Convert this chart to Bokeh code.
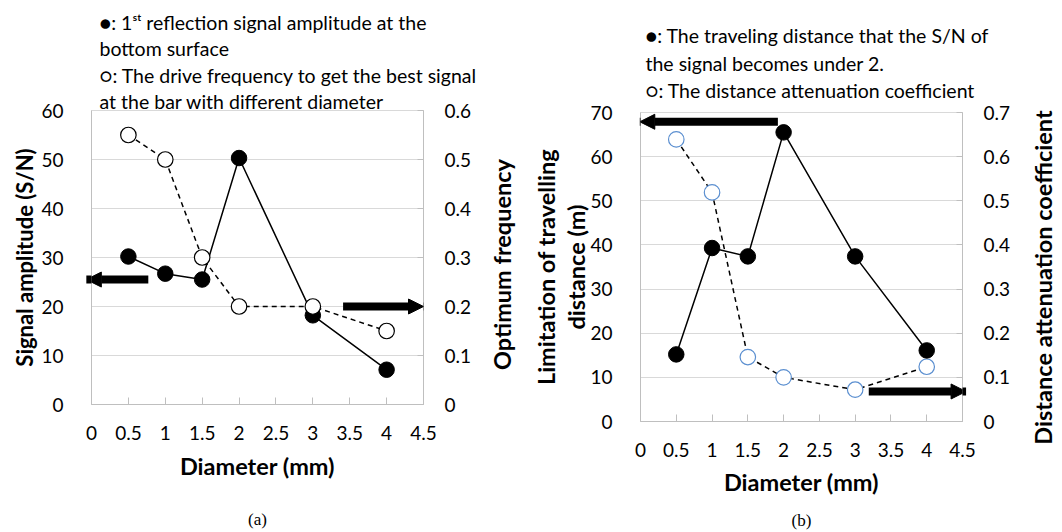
import math
from bokeh.plotting import figure
from bokeh.models import (Range1d, LinearAxis, FixedTicker, CustomJSTickFormatter,
                          Title, Arrow, NormalHead, ColumnDataSource)
from bokeh.layouts import row
from bokeh.embed import file_html
from bokeh.resources import INLINE

# ---------------- data ----------------
diameter = [0.5, 1, 1.5, 2, 3, 4]
a_amplitude = [30.2, 26.7, 25.5, 50.3, 18.2, 7.1]
a_frequency = [0.55, 0.50, 0.30, 0.20, 0.20, 0.15]
b_distance = [15.2, 39.3, 37.4, 65.5, 37.4, 16.1]
b_attenuation = [0.639, 0.519, 0.146, 0.100, 0.072, 0.124]

x_ticks = [0, 0.5, 1, 1.5, 2, 2.5, 3, 3.5, 4, 4.5]
a_left_ticks = [0, 10, 20, 30, 40, 50, 60]
a_right_ticks = [0, 0.1, 0.2, 0.3, 0.4, 0.5, 0.6]
b_left_ticks = [0, 10, 20, 30, 40, 50, 60, 70]
b_right_ticks = [0, 0.1, 0.2, 0.3, 0.4, 0.5, 0.6, 0.7]

a_legend = ["\u25cf: 1\u02e2\u1d57 reflection signal amplitude at the",
            "bottom surface",
            "\u25cb: The drive frequency to get the best signal",
            "at the bar with different diameter"]
b_legend = ["\u25cf: The traveling distance that the S/N of",
            "the signal becomes under 2.",
            "\u25cb: The distance attenuation coefficient"]

FONT = "Lato"
LEG_FONT = "Lato, Noto Sans CJK JP"
TITLE_SIZE = "23.5px"
GRID = "#d9d9d9"
AXIS = "#bfbfbf"
FMT = "return Number(tick.toFixed(2)).toString();"
H = 532


def set_standoff(obj, name, val, fallback=0):
    try:
        setattr(obj, name, val)
    except Exception:
        setattr(obj, name, fallback)


def no_frame_align(p):
    if "frame_align" in p.properties():
        p.frame_align = False


def style_axis_title(ax, text, standoff, size=TITLE_SIZE):
    ax.axis_label = text
    ax.axis_label_text_font = FONT
    ax.axis_label_text_font_size = size
    ax.axis_label_text_font_style = "bold"
    ax.axis_label_text_color = "black"
    set_standoff(ax, "axis_label_standoff", standoff)


def tick_style(ax, standoff):
    ax.minor_tick_line_color = None
    ax.axis_line_color = AXIS
    ax.major_label_standoff = standoff
    ax.major_label_text_font = FONT
    ax.major_label_text_font_size = "19px"
    ax.major_label_text_color = "black"


def base_panel(W, fl, fr, ft, fb, ymax, rmax, lticks, rticks, xtitle, ytitle,
               xt_standoff, yt_standoff, yt_size):
    p = figure(width=W, height=H, output_backend="svg", toolbar_location=None,
               x_range=Range1d(0, 4.5), y_range=Range1d(0, ymax),
               min_border_left=fl, min_border_right=W - fr,
               min_border_top=ft, min_border_bottom=H - fb, title_location=None)
    no_frame_align(p)
    p.extra_y_ranges = {"r": Range1d(0, rmax)}
    p.outline_line_color = GRID
    p.background_fill_color = "white"
    p.border_fill_color = "white"
    p.xgrid.visible = False
    p.ygrid.grid_line_color = GRID
    p.ygrid.ticker = FixedTicker(ticks=lticks)

    xa = p.xaxis[0]
    xa.ticker = FixedTicker(ticks=x_ticks)
    xa.formatter = CustomJSTickFormatter(code=FMT)
    tick_style(xa, 21)
    xa.major_tick_line_color = AXIS
    xa.major_tick_in = 7
    xa.major_tick_out = 0
    style_axis_title(xa, xtitle, xt_standoff)

    ya = p.yaxis[0]
    ya.ticker = FixedTicker(ticks=lticks)
    ya.formatter = CustomJSTickFormatter(code=FMT)
    tick_style(ya, 22)
    ya.major_tick_line_color = None
    style_axis_title(ya, ytitle, yt_standoff, yt_size)
    ya.axis_label_text_line_height = 1.08

    ra = LinearAxis(y_range_name="r", ticker=FixedTicker(ticks=rticks),
                    formatter=CustomJSTickFormatter(code=FMT))
    tick_style(ra, 21)
    ra.major_tick_line_color = AXIS
    ra.major_tick_in = 6
    ra.major_tick_out = 0
    p.add_layout(ra, "right")
    return p


def caption(p, text, standoff):
    cap = LinearAxis(ticker=FixedTicker(ticks=[]))
    cap.axis_line_color = None
    cap.major_tick_line_color = None
    cap.minor_tick_line_color = None
    cap.major_tick_in = 0
    cap.major_tick_out = 0
    cap.minor_tick_in = 0
    cap.minor_tick_out = 0
    cap.major_label_standoff = 0
    cap.axis_label = text
    cap.axis_label_text_font = "Liberation Serif"
    cap.axis_label_text_font_size = "17px"
    cap.axis_label_text_font_style = "normal"
    cap.axis_label_text_color = "black"
    cap.axis_label_standoff = standoff
    p.add_layout(cap, "below")


def legend_title(p, lines, offset, standoff, line_height):
    t = Title(text="\n".join(lines), align="left", offset=offset,
              text_font=LEG_FONT, text_font_size="19.5px",
              text_font_style="normal", text_color="black",
              text_line_height=line_height)
    set_standoff(t, "standoff", standoff)
    p.add_layout(t, "above")


def title_strip(W, top, bottom, text, standoff):
    p = figure(width=W, height=H, output_backend="svg", toolbar_location=None,
               x_axis_location=None, y_axis_location=None, title_location=None,
               min_border_left=0, min_border_right=0,
               min_border_top=top, min_border_bottom=H - bottom)
    no_frame_align(p)
    p.outline_line_color = None
    p.background_fill_color = "white"
    p.border_fill_color = "white"
    p.grid.visible = False
    p.add_layout(Title(text=text, align="center", standoff=standoff,
                       text_font=FONT, text_font_size=TITLE_SIZE, text_font_style="bold",
                       text_color="black"), "left")
    return p


def solid_series(p, ys, rng="default"):
    src = ColumnDataSource(dict(x=diameter, y=ys))
    p.line("x", "y", source=src, line_color="black", line_width=1.5, y_range_name=rng)
    p.scatter("x", "y", source=src, size=15.5, fill_color="black", line_color="black",
              y_range_name=rng)


def open_series(p, ys, rng, edge):
    src = ColumnDataSource(dict(x=diameter, y=ys))
    p.line("x", "y", source=src, line_color="black", line_width=1.5, line_dash="5 4",
           y_range_name=rng)
    p.scatter("x", "y", source=src, size=15.5, fill_color="white", line_color=edge,
              line_width=1.2, y_range_name=rng)


def arrow(p, x0, x1, y):
    p.add_layout(Arrow(end=NormalHead(size=15, fill_color="black", line_color="black"),
                       x_start=x0, y_start=y, x_end=x1, y_end=y,
                       line_color="black", line_width=8))


# ---------------- panel (a) : canvas x 0..485 ----------------
pa = base_panel(485, 91, 423, 110, 404, 60, 0.6, a_left_ticks, a_right_ticks,
                "Diameter (mm)", "Signal amplitude (S/N)", 9, 0, "22px")
solid_series(pa, a_amplitude)
open_series(pa, a_frequency, "r", "black")
arrow(pa, 0.77, -0.07, 25.5)
arrow(pa, 3.41, 4.5, 20)
legend_title(pa, a_legend, 8, -6, 1.157)
caption(pa, "(a)", 27)

# right title of (a) : canvas x 485..521
ta = title_strip(36, 110, 418, "Optimum frequency", 0)

# ---------------- panel (b) : canvas x 521..1026 ----------------
pb = base_panel(505, 119, 441, 112, 422, 70, 0.7, b_left_ticks, b_right_ticks,
                "Diameter (mm)", "Limitation of travelling\ndistance (m)", 8, -3, TITLE_SIZE)
open_series(pb, b_attenuation, "r", "#5b8fd0")
solid_series(pb, b_distance)
arrow(pb, 1.92, -0.01, 67.9)
arrow(pb, 3.19, 4.55, 6.8)
legend_title(pb, b_legend, 5, 20, 1.2)
caption(pb, "(b)", 12)

# right title of (b) : canvas x 1026..1062
tb = title_strip(36, 116, 438, "Distance attenuation coefficient", 1)

layout = row(pa, ta, pb, tb)
open("out.html", "w").write(file_html(layout, INLINE))
